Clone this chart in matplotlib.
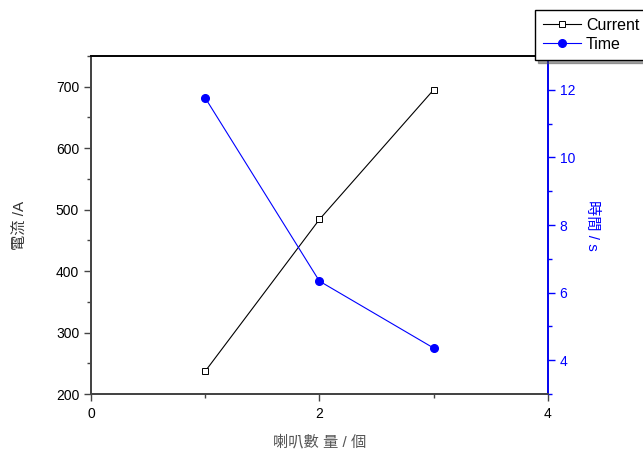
import matplotlib
matplotlib.use("Agg")
import matplotlib.pyplot as plt
from matplotlib.ticker import MultipleLocator

plt.rcParams['font.family'] = ['Liberation Sans', 'Noto Sans CJK TC', 'DejaVu Sans']

# data
speakers = [1, 2, 3]
current = [237, 484, 695]
time_s = [11.76, 6.34, 4.36]

x_label = "喇叭數 量 / 個"
y_label = "電流 /A"
y2_label = "時間 / s"

fig = plt.figure(figsize=(6.43, 4.5), dpi=100)
ax = fig.add_axes([0.1415, 0.1244, 0.7105, 0.7512])
ax2 = ax.twinx()

l1, = ax.plot(speakers, current, color="black", lw=0.8, marker="s",
              ms=5, mfc="white", mec="black", mew=0.7, label="Current")
l2, = ax2.plot(speakers, time_s, color="blue", lw=0.8, marker="o",
               ms=5.5, mfc="blue", mec="blue", label="Time")

ax.set_xlim(0, 4)
ax.set_ylim(200, 750)
ax2.set_ylim(3, 13)

ax.xaxis.set_major_locator(MultipleLocator(2))
ax.xaxis.set_minor_locator(MultipleLocator(1))
ax.yaxis.set_major_locator(MultipleLocator(100))
ax.yaxis.set_minor_locator(MultipleLocator(50))
ax2.yaxis.set_major_locator(MultipleLocator(2))
ax2.yaxis.set_minor_locator(MultipleLocator(1))

for a in (ax, ax2):
    for s in a.spines.values():
        s.set_linewidth(1.3)
        s.set_color("#444444")
ax2.spines["right"].set_color("blue")
ax2.spines["top"].set_color("black")

ax.tick_params(which="major", direction="out", length=5, width=1, color="#444444",
               labelsize=10)
ax.tick_params(which="minor", direction="out", length=3, width=1, color="#444444")
ax.tick_params(axis="x", pad=4)
ax2.tick_params(which="major", direction="out", length=5, width=1, color="blue",
                labelcolor="blue", labelsize=10)
ax2.tick_params(which="minor", direction="out", length=3, width=1, color="blue")

ax.set_xlabel(x_label, fontsize=11, color="#555555", labelpad=10)
ax.set_ylabel(y_label, fontsize=11, color="#333333", labelpad=20)
ax2.set_ylabel(y2_label, fontsize=11, color="blue", rotation=-90, labelpad=17)

leg = fig.legend([l1, l2], ["Current", "Time"], loc="upper left",
                 bbox_to_anchor=(0.832, 0.978), borderaxespad=0, fontsize=11.5,
                 frameon=True, fancybox=False, shadow=True, edgecolor="black",
                 handlelength=2.4, handletextpad=0.3, borderpad=0.5,
                 labelspacing=0.25)
leg.get_frame().set_linewidth(1.0)

fig.savefig("out.png", dpi=100)
